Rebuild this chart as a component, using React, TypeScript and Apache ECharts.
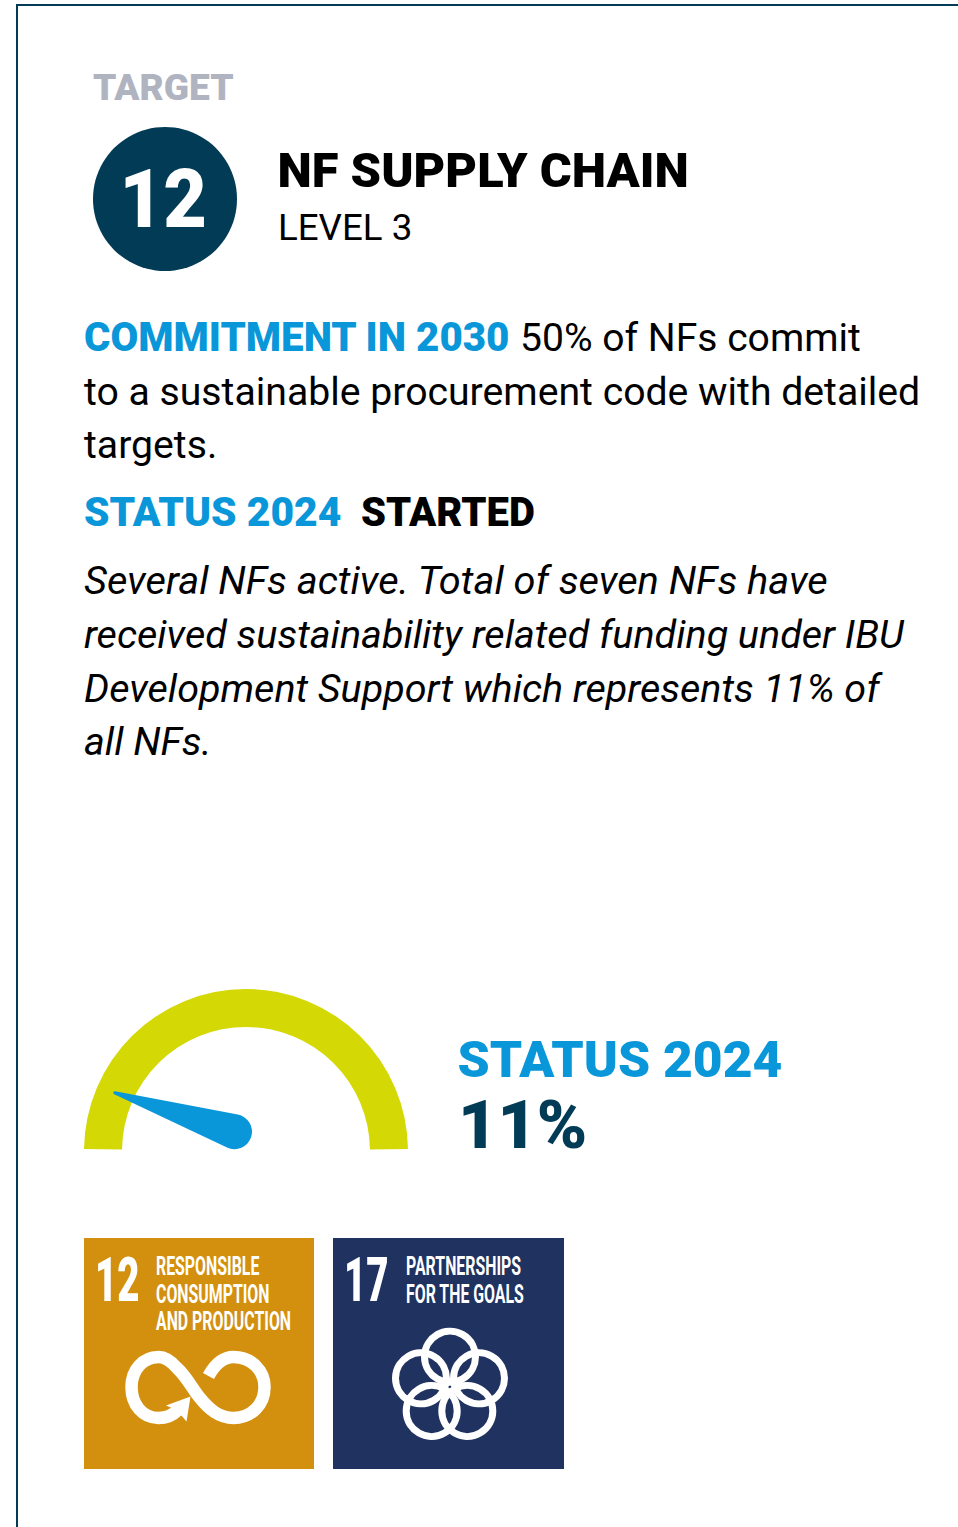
import React, { useEffect, useRef } from "react";
import * as echarts from "echarts";

const gaugeValue = 11;
const gaugeMin = 0;
const gaugeMax = 100;

const FONT = "Roboto, 'Noto Sans', sans-serif";
const DARK = "#023B56";
const BLUE = "#0A97D9";

const label = "TARGET";
const goalNumber = "12";
const title = "NF SUPPLY CHAIN";
const level = "LEVEL 3";
const commitmentHead = "COMMITMENT IN 2030";
const commitmentLines = ["50% of NFs commit", "to a sustainable procurement code with detailed", "targets."];
const statusHead = "STATUS 2024";
const statusValue = "STARTED";
const statusLines = [
  "Several NFs active. Total of seven NFs have",
  "received sustainability related funding under IBU",
  "Development Support which represents 11% of",
  "all NFs.",
];
const tile12Lines = ["RESPONSIBLE", "CONSUMPTION", "AND PRODUCTION"];
const tile17Lines = ["PARTNERSHIPS", "FOR THE GOALS"];

const infinityPath =
  "M208.5 1376 C215 1364 224 1357 233.5 1357 C251 1357 264.5 1370 264.5 1387 C264.5 1405 251 1418 233.5 1418 C219 1418 209 1409 200 1398 C192 1388 186 1376 177 1368 C171 1361 165 1357 158.5 1357 C143 1357 131.5 1370 131.5 1387 C131.5 1405 143 1418 158.5 1418 C166 1418 173 1415 178 1410";
echarts.graphic.registerShape("infinityLoop", echarts.graphic.extendPath(infinityPath, {}) as any);

const needleIcon =
  "path://M16.01 1.31 A1.5 1.5 0 0 1 18.99 1.31 L34.86 125.1 A17.5 17.5 0 1 1 0.14 125.1 Z";

function txt(text: string, x: number, y: number, size: number, fill: string, weight: string | number = "normal", italic = false, scaleX = 1) {
  return {
    type: "text",
    x,
    y,
    scaleX,
    style: {
      text,
      fill,
      font: `${italic ? "italic " : ""}${weight} ${size}px ${FONT}`,
      textAlign: "left",
      textVerticalAlign: "middle",
    },
  };
}

function ring(cx: number, cy: number) {
  return {
    type: "circle",
    shape: { cx, cy, r: 25.5 },
    style: { fill: "none", stroke: "#fff", lineWidth: 7 },
  };
}

const App = () => {
  const ref = useRef<HTMLDivElement>(null);
  useEffect(() => {
    const chart = echarts.init(ref.current!, null, { renderer: "svg" });
    const baseGauge = {
      type: "gauge",
      min: gaugeMin,
      max: gaugeMax,
      axisTick: { show: false },
      splitLine: { show: false },
      axisLabel: { show: false },
      title: { show: false },
      detail: { show: false },
      data: [{ value: gaugeValue }],
    };
    chart.setOption({
      animation: false,
      backgroundColor: "#fff",
      series: [
        {
          ...baseGauge,
          center: [246, 1151],
          radius: 162,
          startAngle: 179.3,
          endAngle: 0.7,
          pointer: { show: false },
          axisLine: { lineStyle: { width: 38, color: [[1, "#D4D805"]] } },
        },
        {
          ...baseGauge,
          center: [234.5, 1131.7],
          radius: 127,
          startAngle: 181.8,
          endAngle: 1.8,
          axisLine: { show: false },
          pointer: {
            show: true,
            icon: needleIcon,
            width: 35,
            length: 144.8,
            offsetCenter: [0, 17.5],
            itemStyle: { color: BLUE },
          },
        },
      ],
      graphic: [
        { type: "line", shape: { x1: 17, y1: 5, x2: 17, y2: 1527 }, style: { stroke: DARK, lineWidth: 2 } },
        { type: "line", shape: { x1: 16, y1: 5, x2: 958, y2: 5 }, style: { stroke: DARK, lineWidth: 2 } },
        txt(label, 93, 86.5, 37.5, "#B0B4C0", 900, false, 0.99),
        { type: "circle", shape: { cx: 165, cy: 199, r: 72 }, style: { fill: DARK } },
        txt(goalNumber, 119.5, 199.5, 81, "#fff", 900, false, 0.93),
        txt(title, 277.5, 170.5, 48.8, "#000", 900),
        txt(level, 278, 227, 36.7, "#000"),
        txt(commitmentHead, 84, 337.5, 40, BLUE, 900, false, 1.007),
        txt(commitmentLines[0], 520, 337.5, 39.1, "#000"),
        txt(commitmentLines[1], 84, 391.5, 39.2, "#000"),
        txt(commitmentLines[2], 84, 445, 39.2, "#000"),
        txt(statusHead, 84, 512.5, 40, BLUE, 900, false, 1.02),
        txt(statusValue, 361, 512.5, 40, "#000", 900),
        ...statusLines.map((line, i) => txt(line, 84, 581 + i * 53.5, 39.5, "#000", "normal", true, i === 0 ? 1.006 : 1)),
        txt(statusHead, 457.5, 1059.5, 50, BLUE, 900, false, 1.03),
        txt(`${gaugeValue}%`, 458, 1124.5, 67, DARK, 900, false, 1.015),
        { type: "rect", shape: { x: 84, y: 1238, width: 230, height: 231 }, style: { fill: "#D3900E" } },
        txt("12", 95, 1280, 62, "#fff", 900, false, 0.62),
        ...tile12Lines.map((line, i) => txt(line, 156, 1267 + i * 27.2, 25, "#fff", 700, false, 0.635)),
        { type: "infinityLoop", style: { fill: "none", stroke: "#fff", lineWidth: 12.5 } },
        { type: "polygon", shape: { points: [[190.5, 1396.5], [166, 1405.5], [176.7, 1410], [186.5, 1421.5]] }, style: { fill: "#fff" } },
        { type: "rect", shape: { x: 333, y: 1238, width: 231, height: 231 }, style: { fill: "#20325F" } },
        txt("17", 344, 1280, 62, "#fff", 900, false, 0.62),
        ...tile17Lines.map((line, i) => txt(line, 406, 1267 + i * 27.2, 25, "#fff", 700, false, 0.635)),
        ring(450, 1356.7),
        ring(421, 1378.3),
        ring(479, 1378.3),
        ring(431.7, 1411),
        ring(467.3, 1411),
      ],
    });
    return () => chart.dispose();
  }, []);
  return <div ref={ref} style={{ position: "absolute", left: 0, top: 0, width: 958, height: 1527 }} />;
};

export default App;
